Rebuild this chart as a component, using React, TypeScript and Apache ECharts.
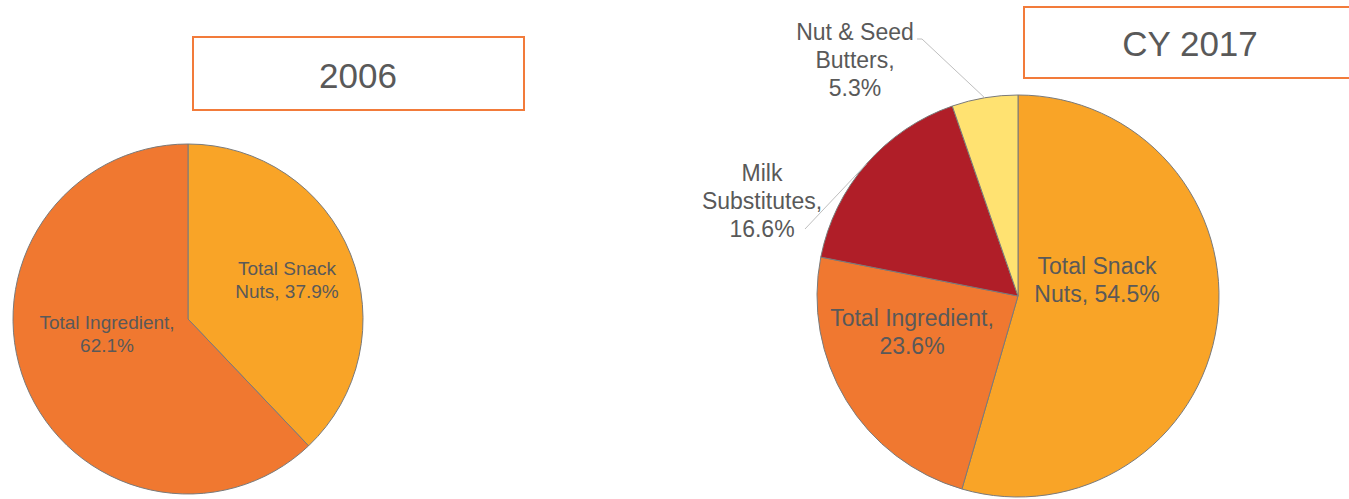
import React, { useEffect, useRef } from "react";
import * as echarts from "echarts";

const categories2006 = ["Total Snack Nuts", "Total Ingredient"];
const values2006 = [37.9, 62.1];
const categories2017 = ["Total Snack Nuts", "Total Ingredient", "Milk Substitutes", "Nut & Seed Butters"];
const values2017 = [54.5, 23.6, 16.6, 5.3];
const titles = ["2006", "CY 2017"];

const colorMap: Record<string, string> = {
  "Total Snack Nuts": "#F9A427",
  "Total Ingredient": "#F07830",
  "Milk Substitutes": "#B01E28",
  "Nut & Seed Butters": "#FFE271",
};

// label text wrapping templates ({v} = value)
const wrap2006: Record<string, string> = {
  "Total Snack Nuts": "Total Snack\nNuts, {v}",
  "Total Ingredient": "Total Ingredient,\n{v}",
};
const wrap2017: Record<string, string> = {
  "Total Snack Nuts": "Total Snack\nNuts, {v}",
  "Total Ingredient": "Total Ingredient,\n{v}",
  "Milk Substitutes": "Milk\nSubstitutes,\n{v}",
  "Nut & Seed Butters": "Nut & Seed\nButters,\n{v}",
};

// label centre positions (px)
const labelPos2006 = [[287, 280], [107, 334]];
const labelPos2017 = [[1097, 280], [912, 332], [762, 201], [855, 60]];
// where each leader line meets its label (px); null = no leader line
const leaderEnd2017: (number[][] | null)[] = [null, null, [[805, 229]], [[917, 39], [922, 39]]];

const PIE2006_CENTER = [188, 319];
const PIE2006_R = 175;
const PIE2017_CENTER = [1018, 296];
const PIE2017_R = 201;

const FONT = "'Liberation Sans', Arial, sans-serif";
const TEXT = "#595959";

// point on the pie edge at the middle angle of slice i (clockwise from 12 o'clock)
function edgeAnchor(values: number[], i: number, c: number[], r: number) {
  const total = values.reduce((a, b) => a + b, 0);
  let before = 0;
  for (let k = 0; k < i; k++) before += values[k];
  const mid = (before + values[i] / 2) / total;
  const th = mid * Math.PI * 2;
  return [c[0] + r * Math.sin(th), c[1] - r * Math.cos(th)];
}

export default function App() {
  const ref = useRef<HTMLDivElement>(null);
  useEffect(() => {
    document.body.style.margin = "0";
    const chart = echarts.init(ref.current!, undefined, { renderer: "svg" });
    const fmt = (tpl: Record<string, string>) => (p: any) =>
      tpl[p.name].replace("{v}", p.value.toFixed(1) + "%");

    const leaderLines: any[] = [];
    leaderEnd2017.forEach((end, i) => {
      if (!end) return;
      const start = edgeAnchor(values2017, i, PIE2017_CENTER, PIE2017_R);
      leaderLines.push({
        type: "polyline",
        z: 10,
        shape: { points: [start, ...end.slice().reverse()] },
        style: { stroke: "#bfbfbf", lineWidth: 1, fill: null },
        silent: true,
      });
    });

    chart.setOption({
      animation: false,
      backgroundColor: "#ffffff",
      textStyle: { fontFamily: FONT },
      graphic: [
        {
          type: "rect",
          shape: { x: 193, y: 37, width: 331, height: 73 },
          style: { fill: "#fff", stroke: "#F27B3A", lineWidth: 2 },
        },
        {
          type: "text",
          x: 358,
          y: 75,
          style: {
            text: titles[0],
            fill: TEXT,
            font: `35px ${FONT}`,
            textAlign: "center",
            textVerticalAlign: "middle",
          },
        },
        {
          type: "rect",
          shape: { x: 1024, y: 7, width: 340, height: 71 },
          style: { fill: "#fff", stroke: "#F27B3A", lineWidth: 2 },
        },
        {
          type: "text",
          x: 1190,
          y: 43,
          style: {
            text: titles[1],
            fill: TEXT,
            font: `35px ${FONT}`,
            textAlign: "center",
            textVerticalAlign: "middle",
          },
        },
        ...leaderLines,
      ],
      series: [
        {
          type: "pie",
          center: PIE2006_CENTER,
          radius: [0, PIE2006_R],
          startAngle: 90,
          clockwise: true,
          itemStyle: { borderColor: "#7a7a7a", borderWidth: 1 },
          label: {
            show: true,
            position: "inside",
            formatter: fmt(wrap2006),
            color: TEXT,
            fontSize: 19,
            lineHeight: 23,
            fontFamily: FONT,
            align: "center",
          },
          labelLayout: (p: any) => ({
            x: labelPos2006[p.dataIndex][0],
            y: labelPos2006[p.dataIndex][1],
            align: "center",
            verticalAlign: "middle",
          }),
          emphasis: { disabled: true },
          data: categories2006.map((c, i) => ({
            name: c,
            value: values2006[i],
            itemStyle: { color: colorMap[c] },
          })),
        },
        {
          type: "pie",
          center: PIE2017_CENTER,
          radius: [0, PIE2017_R],
          startAngle: 90,
          clockwise: true,
          itemStyle: { borderColor: "#7a7a7a", borderWidth: 1 },
          label: {
            show: true,
            formatter: fmt(wrap2017),
            color: TEXT,
            fontSize: 23,
            lineHeight: 28,
            fontFamily: FONT,
            align: "center",
          },
          labelLine: { show: false },
          labelLayout: (p: any) => ({
            x: labelPos2017[p.dataIndex][0],
            y: labelPos2017[p.dataIndex][1],
            align: "center",
            verticalAlign: "middle",
          }),
          emphasis: { disabled: true },
          data: categories2017.map((c, i) => ({
            name: c,
            value: values2017[i],
            itemStyle: { color: colorMap[c] },
            label: { position: i < 2 ? "inside" : "outside" },
          })),
        },
      ],
    });
    return () => chart.dispose();
  }, []);
  return (
    <div
      ref={ref}
      style={{ position: "absolute", left: 0, top: 0, width: 1349, height: 499 }}
    />
  );
}
